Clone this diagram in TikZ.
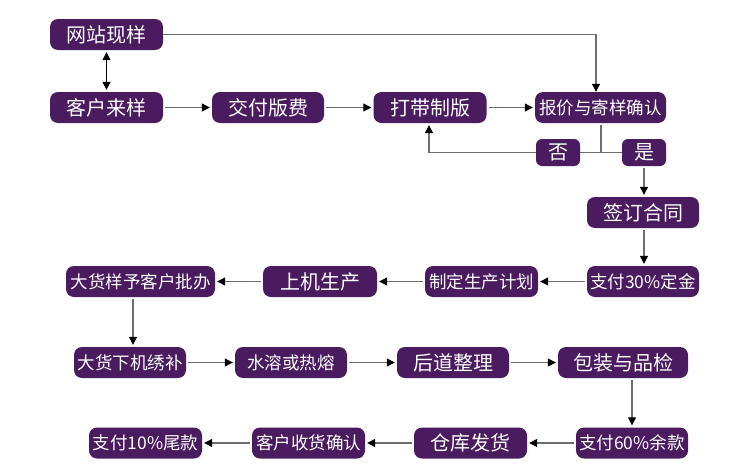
\documentclass[tikz,border=0pt]{standalone}
\usepackage{fontspec}
\newfontfamily\cjk{Noto Sans CJK SC}
\usetikzlibrary{arrows.meta}
\definecolor{boxpurple}{HTML}{4A1B5E}
\definecolor{linegrey}{HTML}{6E6E6E}
\tikzset{
  box/.style={rounded corners=8pt, fill=boxpurple, text=white, inner sep=0pt,
    minimum height=31pt, font=\cjk\fontsize{20}{20}\selectfont},
  sbox/.style={box, font=\cjk\fontsize{17.5}{17.5}\selectfont},
  tbox/.style={box, minimum height=27pt, minimum width=44pt, rounded corners=6pt},
  conn/.style={draw=linegrey, line width=1.1pt},
  arr/.style={conn, -{Triangle[length=8pt,width=8pt,black]}, shorten >=2pt, shorten <=2pt},
  darr/.style={draw=black, line width=1.1pt, {Triangle[length=8pt,width=8pt]}-{Triangle[length=8pt,width=8pt]}, shorten >=2pt, shorten <=2pt}
}
\begin{document}
\begin{tikzpicture}[x=1pt,y=-1pt]
\useasboundingbox[fill=white] (0,0) rectangle (750,474);
% row 1-2
\node[box, minimum width=113pt] (w1) at (106.5,34.5) {网站现样};
\node[box, minimum width=113pt] (k1) at (106.5,107.5) {客户来样};
\node[box, minimum width=112pt] (j) at (268,107.5) {交付版费};
\node[box, minimum width=113pt] (d) at (430,107.5) {打带制版};
\node[sbox, minimum width=131pt] (b) at (600.5,107.5) {报价与寄样确认};
\node[tbox] (no) at (558,152.5) {否};
\node[tbox] (yes) at (644,152.5) {是};
\node[box, minimum width=112pt] (q) at (643,212.5) {签订合同};
% row 3
\node[sbox, minimum width=112pt] (p30) at (643,281.5) {支付30\%定金};
\node[sbox, minimum width=113pt] (zd) at (481.5,281.5) {制定生产计划};
\node[box, minimum width=114pt] (sj) at (320,281.5) {上机生产};
\node[sbox, minimum width=149pt] (dh) at (140.5,281.5) {大货样予客户批办};
% row 4
\node[sbox, minimum width=112pt] (dx) at (130,362.5) {大货下机绣补};
\node[sbox, minimum width=112pt] (sr) at (291,362.5) {水溶或热熔};
\node[box, minimum width=112pt] (hd) at (453,362.5) {后道整理};
\node[box, minimum width=130pt] (bz) at (623,362.5) {包装与品检};
% row 5
\node[sbox, minimum width=112pt] (p60) at (632,443) {支付60\%余款};
\node[box, minimum width=113pt] (ck) at (470.5,443) {仓库发货};
\node[sbox, minimum width=113pt] (kh) at (308.5,443) {客户收货确认};
\node[sbox, minimum width=113pt] (p10) at (145.5,443) {支付10\%尾款};
% connectors
\draw[darr] (w1.south) -- (k1.north);
\draw[arr] (k1) -- (j);
\draw[arr] (j) -- (d);
\draw[arr] (d) -- (b);
\draw[arr, shorten <=0pt, shorten >=0pt] (w1.east) -| ([xshift=-4.5pt]b.north);
\draw[conn, shorten <=2pt] ([xshift=0.5pt]b.south) -- ([xshift=0.5pt]b.south |- no.east);
\draw[conn] (no.east) -- (yes.west);
\draw[arr, shorten <=0pt] (no.west) -| ([xshift=-1pt]d.south);
\draw[arr] (yes.south) -- ([xshift=1pt]q.north);
\draw[arr] ([xshift=1pt]q.south) -- ([xshift=1pt]p30.north);
\draw[arr] (p30) -- (zd);
\draw[arr] (zd) -- (sj);
\draw[arr] (sj) -- (dh);
\draw[arr] ([xshift=-7.5pt]dh.south) -- ([xshift=3pt]dx.north);
\draw[arr] (dx) -- (sr);
\draw[arr] (sr) -- (hd);
\draw[arr] (hd) -- (bz);
\draw[arr] (p60.north |- bz.south) -- (p60.north);
\draw[arr] (p60) -- (ck);
\draw[arr] (ck) -- (kh);
\draw[arr] (kh) -- (p10);
\end{tikzpicture}
\end{document}
